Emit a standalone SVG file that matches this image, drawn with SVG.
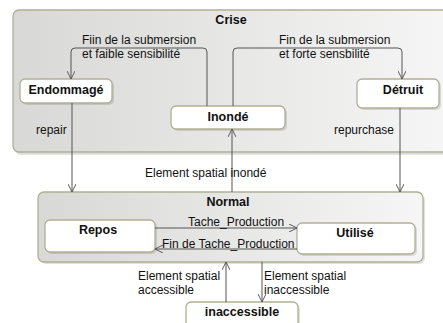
<svg xmlns="http://www.w3.org/2000/svg" width="443" height="323" viewBox="0 0 443 323">
<style>
.t{font-family:"Liberation Sans",Arial,sans-serif;font-size:12px;fill:#111}
.b{font-family:"Liberation Sans",Arial,sans-serif;font-size:12.5px;font-weight:bold;fill:#111;text-anchor:middle}
.comp{stroke:#b0b094;stroke-width:1.3;fill:url(#g)}
.st{stroke:#b0b094;stroke-width:1.3;fill:#fff}
.sh{fill:#000;opacity:0.12}
.c{fill:none;stroke:#555;stroke-width:1}
</style>
<defs>
<linearGradient id="g" x1="0" y1="0" x2="1" y2="0">
<stop offset="0" stop-color="#d8d8d6"/>
<stop offset="1" stop-color="#f6f6f6"/>
</linearGradient>
<marker id="a" viewBox="0 0 10 10" refX="10" refY="5" markerWidth="8" markerHeight="8" orient="auto" markerUnits="userSpaceOnUse">
<path d="M0,0 L10,5 L0,10" fill="none" stroke="#555" stroke-width="1.2"/>
</marker>
</defs>
<rect width="443" height="323" fill="#fff"/>
<g id="crise">
<rect class="sh" x="15" y="12" width="440" height="143" rx="6"/>
<rect class="comp" x="13" y="10" width="440" height="142" rx="6"/>
<text class="b" x="231" y="24">Crise</text>
</g>
<g id="endommage">
<rect class="sh" x="22" y="81" width="92" height="24" rx="5"/>
<rect class="st" x="20" y="79" width="92" height="24" rx="5"/>
<text class="b" x="66" y="94">Endommagé</text>
</g>
<g id="inonde">
<rect class="sh" x="173" y="108" width="114" height="23" rx="5"/>
<rect class="st" x="171" y="106" width="114" height="23" rx="5"/>
<text class="b" x="228" y="121">Inondé</text>
</g>
<g id="detruit">
<rect class="sh" x="359" y="81" width="82" height="29" rx="5"/>
<rect class="st" x="357" y="79" width="82" height="29" rx="5"/>
<text class="b" x="403" y="94">Détruit</text>
</g>
<g id="normal">
<rect class="sh" x="40" y="194" width="385" height="70" rx="6"/>
<rect class="comp" x="38" y="192" width="385" height="70" rx="6"/>
<text class="b" x="228" y="206">Normal</text>
</g>
<g id="repos">
<rect class="sh" x="47" y="222" width="110" height="32" rx="5"/>
<rect class="st" x="45" y="220" width="110" height="32" rx="5"/>
<text class="b" x="98" y="234">Repos</text>
</g>
<g id="utilise">
<rect class="sh" x="299" y="225" width="118" height="31" rx="5"/>
<rect class="st" x="297" y="223" width="118" height="31" rx="5"/>
<text class="b" x="355" y="237">Utilisé</text>
</g>
<g id="inaccessible">
<rect class="sh" x="188" y="304" width="112" height="30" rx="5"/>
<rect class="st" x="186" y="302" width="112" height="30" rx="5"/>
<text class="b" x="242" y="316">inaccessible</text>
</g>
<g id="connectors">
<path class="c" d="M207,106 V52 Q207,48 203,48 H75 Q71,48 71,52 V79" marker-end="url(#a)"/>
<path class="c" d="M233,106 V52 Q233,48 237,48 H398 Q402,48 402,52 V79" marker-end="url(#a)"/>
<path class="c" d="M72,103 V192" marker-end="url(#a)"/>
<path class="c" d="M400,108 V192" marker-end="url(#a)"/>
<path class="c" d="M232,192 V129" marker-end="url(#a)"/>
<path class="c" d="M155,228 H297" marker-end="url(#a)"/>
<path class="c" d="M297,249 H155" marker-end="url(#a)"/>
<path class="c" d="M226,302 V262" marker-end="url(#a)"/>
<path class="c" d="M262,262 V302" marker-end="url(#a)"/>
</g>
<g id="labels">
<text class="t" x="82" y="44">Fiin de la submersion</text>
<text class="t" x="82" y="57.5">et faible sensibilité</text>
<text class="t" x="279" y="44">Fin de la submersion</text>
<text class="t" x="279" y="57.5">et forte sensbilité</text>
<text class="t" x="36" y="134">repair</text>
<text class="t" x="334" y="134">repurchase</text>
<text class="t" x="145" y="177">Element spatial inondé</text>
<text class="t" x="188" y="226">Tache_Production</text>
<text class="t" x="162" y="248">Fin de Tache_Production</text>
<text class="t" x="138" y="280">Element spatial</text>
<text class="t" x="138" y="293.5">accessible</text>
<text class="t" x="264" y="280">Element spatial</text>
<text class="t" x="264" y="293.5">inaccessible</text>
</g>
</svg>
